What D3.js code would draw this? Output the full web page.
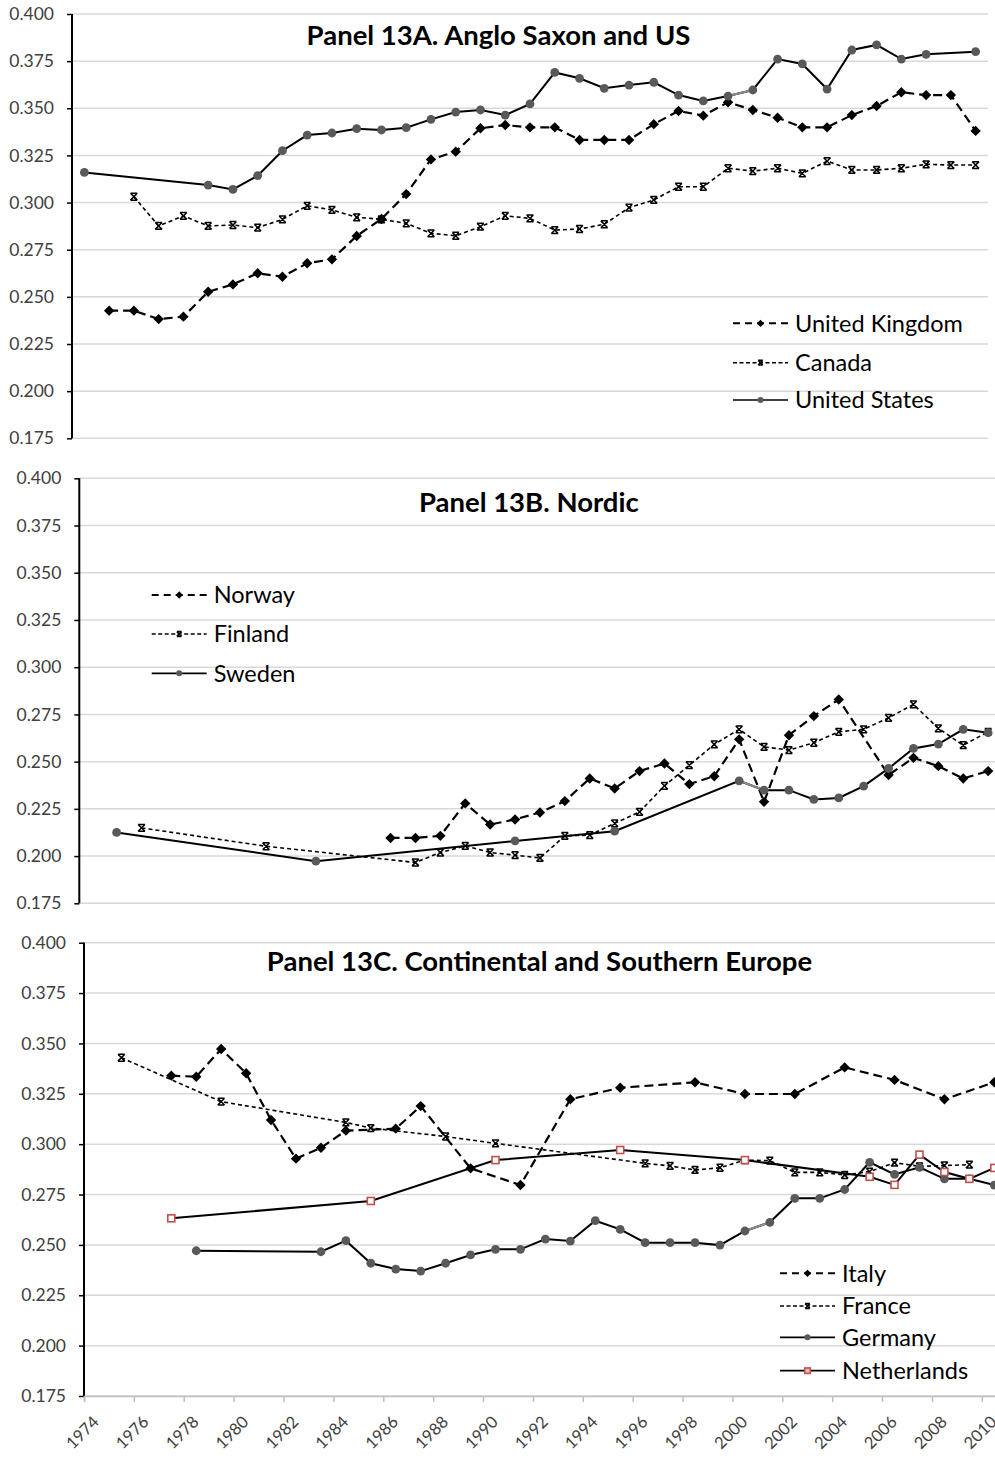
<!DOCTYPE html>
<html><head><meta charset="utf-8">
<script src="https://cdn.jsdelivr.net/npm/d3@7"></script>
<style>
body{margin:0;background:#fff}
svg{display:block}
text{font-family:Lato,'Open Sans',sans-serif}
</style>
</head><body>
<svg id="chart" width="995" height="1473"></svg>
<script>
// ---------------- DATA ----------------
const yTickValues = [0.175, 0.200, 0.225, 0.250, 0.275, 0.300, 0.325, 0.350, 0.375, 0.400];
const xTickYears = [1974,1976,1978,1980,1982,1984,1986,1988,1990,1992,1994,1996,1998,2000,2002,2004,2006,2008,2010];

const titleA = "Panel 13A. Anglo Saxon and US";
const titleB = "Panel 13B. Nordic";
const titleC = "Panel 13C. Continental and Southern Europe";

// Panel A
const ukYears = [1975,1976,1977,1978,1979,1980,1981,1982,1983,1984,1985,1986,1987,1988,1989,1990,1991,1992,1993,1994,1995,1996,1997,1998,1999,2000,2001,2002,2003,2004,2005,2006,2007,2008,2009,2010];
const ukValues = [0.2427,0.2427,0.2382,0.2395,0.2527,0.2566,0.2625,0.2607,0.2678,0.2699,0.2823,0.2913,0.3045,0.3229,0.3270,0.3394,0.3411,0.3399,0.3399,0.3332,0.3332,0.3332,0.3416,0.3486,0.3461,0.3532,0.3491,0.3450,0.3399,0.3399,0.3464,0.3512,0.3585,0.3570,0.3570,0.3380];
const canadaYears = [1976,1977,1978,1979,1980,1981,1982,1983,1984,1985,1986,1987,1988,1989,1990,1991,1992,1993,1994,1995,1996,1997,1998,1999,2000,2001,2002,2003,2004,2005,2006,2007,2008,2009,2010];
const canadaValues = [0.3031,0.2876,0.2929,0.2876,0.2881,0.2867,0.2911,0.2983,0.2961,0.2922,0.2911,0.2890,0.2837,0.2824,0.2872,0.2930,0.2916,0.2854,0.2860,0.2885,0.2973,0.3014,0.3084,0.3084,0.3182,0.3167,0.3182,0.3155,0.3220,0.3173,0.3173,0.3182,0.3203,0.3199,0.3199];
const usYears = [1974,1979,1980,1981,1982,1983,1984,1985,1986,1987,1988,1989,1990,1991,1992,1993,1994,1995,1996,1997,1998,1999,2000,2001,2002,2003,2004,2005,2006,2007,2008,2010];
const usValues = [0.3160,0.3093,0.3070,0.3143,0.3275,0.3358,0.3369,0.3392,0.3385,0.3397,0.3441,0.3480,0.3491,0.3464,0.3523,0.3690,0.3659,0.3606,0.3623,0.3638,0.3570,0.3539,0.3565,0.3597,0.3761,0.3735,0.3602,0.3809,0.3836,0.3761,0.3786,0.3800];

// Panel B
const norwayYears = [1986,1987,1988,1989,1990,1991,1992,1993,1994,1995,1996,1997,1998,1999,2000,2001,2002,2003,2004,2006,2007,2008,2009,2010];
const norwayValues = [0.2096,0.2096,0.2107,0.2279,0.2167,0.2194,0.2231,0.2291,0.2411,0.2358,0.2450,0.2490,0.2381,0.2423,0.2618,0.2287,0.2640,0.2741,0.2829,0.2429,0.2520,0.2476,0.2411,0.2450];
const finlandYears = [1976,1981,1987,1988,1989,1990,1991,1992,1993,1994,1995,1996,1997,1998,1999,2000,2001,2002,2003,2004,2005,2006,2007,2008,2009,2010];
const finlandValues = [0.2149,0.2052,0.1966,0.2019,0.2054,0.2019,0.2005,0.1990,0.2107,0.2111,0.2173,0.2234,0.2372,0.2481,0.2591,0.2671,0.2578,0.2561,0.2600,0.2658,0.2671,0.2732,0.2803,0.2676,0.2587,0.2658];
const swedenYears = [1975,1983,1991,1995,2000,2001,2002,2003,2004,2005,2006,2007,2008,2009,2010];
const swedenValues = [0.2125,0.1973,0.2080,0.2132,0.2398,0.2349,0.2349,0.2300,0.2308,0.2370,0.2464,0.2570,0.2593,0.2671,0.2653];

// Panel C (points sit between the year ticks)
const italyYears = [1977.5,1978.5,1979.5,1980.5,1981.5,1982.5,1983.5,1984.5,1986.5,1987.5,1989.5,1991.5,1993.5,1995.5,1998.5,2000.5,2002.5,2004.5,2006.5,2008.5,2010.5];
const italyValues = [0.3340,0.3335,0.3472,0.3352,0.3120,0.2928,0.2982,0.3067,0.3077,0.3189,0.2880,0.2797,0.3223,0.3280,0.3307,0.3249,0.3249,0.3381,0.3319,0.3223,0.3307];
const franceYears = [1975.5,1979.5,1984.5,1985.5,1988.5,1990.5,1996.5,1997.5,1998.5,1999.5,2000.5,2001.5,2002.5,2003.5,2004.5,2005.5,2006.5,2007.5,2008.5,2009.5];
const franceValues = [0.3429,0.3211,0.3108,0.3080,0.3038,0.3004,0.2905,0.2892,0.2872,0.2883,0.2921,0.2918,0.2860,0.2860,0.2847,0.2864,0.2908,0.2890,0.2894,0.2898];
const germanyYears = [1978.5,1983.5,1984.5,1985.5,1986.5,1987.5,1988.5,1989.5,1990.5,1991.5,1992.5,1993.5,1994.5,1995.5,1996.5,1997.5,1998.5,1999.5,2000.5,2001.5,2002.5,2003.5,2004.5,2005.5,2006.5,2007.5,2008.5,2009.5,2010.5];
const germanyValues = [0.2471,0.2466,0.2521,0.2409,0.2380,0.2370,0.2409,0.2450,0.2478,0.2478,0.2529,0.2519,0.2620,0.2577,0.2511,0.2511,0.2511,0.2499,0.2569,0.2612,0.2731,0.2731,0.2775,0.2910,0.2850,0.2885,0.2828,0.2828,0.2797];
const netherlandsYears = [1977.5,1985.5,1990.5,1995.5,2000.5,2005.5,2006.5,2007.5,2008.5,2009.5,2010.5];
const netherlandsValues = [0.2632,0.2718,0.2921,0.2971,0.2921,0.2838,0.2798,0.2948,0.2862,0.2828,0.2882];

// ---------------- STYLES ----------------
const styles = {
  dash:  {dash: "9,5",   width: 2.2, lDash: "7,5",   marker: "diamond"},
  short: {dash: "4,3",   width: 1.6, lDash: "4,2.5", marker: "star"},
  solid: {dash: null,    width: 2.0, lDash: null,    marker: "circle"},
  nl:    {dash: null,    width: 2.0, lDash: null,    marker: "square"}
};
const zip = (xs, vs) => xs.map((x, i) => ({x, v: vs[i]}));

const panels = [
  { title: titleA, titleX: 498.5, titleY: 45,
    xDomain: [1973.5, 2010.5], xRange: [72, 988], yTop: 14, yBot: 438.3,
    legendX: 733, legendYs: [323.3, 362.7, 400], xAxis: false,
    series: [
      {name: "United Kingdom", data: zip(ukYears, ukValues), style: "dash"},
      {name: "Canada", data: zip(canadaYears, canadaValues), style: "short"},
      {name: "United States", data: zip(usYears, usValues), style: "solid", gray: [2000, 2001]}
    ]},
  { title: titleB, titleX: 528.8, titleY: 511.7,
    xDomain: [1973.5, 2010.5], xRange: [79.3, 79.3 + 37 * 24.9], yTop: 478.3, yBot: 903.3,
    legendX: 151.7, legendYs: [595, 634, 673.3], xAxis: false,
    series: [
      {name: "Norway", data: zip(norwayYears, norwayValues), style: "dash"},
      {name: "Finland", data: zip(finlandYears, finlandValues), style: "short"},
      {name: "Sweden", data: zip(swedenYears, swedenValues), style: "solid", gray: [2000, 2001]}
    ]},
  { title: titleC, titleX: 539.5, titleY: 970.7,
    xDomain: [1974, 2011], xRange: [84, 84 + 37 * 24.94], yTop: 942.7, yBot: 1396,
    legendX: 780, legendYs: [1273.3, 1306, 1337.3, 1370.7], xAxis: true,
    series: [
      {name: "Italy", data: zip(italyYears, italyValues), style: "dash"},
      {name: "France", data: zip(franceYears, franceValues), style: "short"},
      {name: "Germany", data: zip(germanyYears, germanyValues), style: "solid", gray: [2000.5, 2001.5]},
      {name: "Netherlands", data: zip(netherlandsYears, netherlandsValues), style: "nl"}
    ]}
];

const svg = d3.select("#chart");
svg.append("rect").attr("width", 995).attr("height", 1473).attr("fill", "#fff");

function drawMarker(g, type, cx, cy, small) {
  const k = small ? 0.7 : 1;
  if (type === "diamond") {
    const r = 5.2 * k;
    g.append("path").attr("d", `M${cx},${cy - r}L${cx + r},${cy}L${cx},${cy + r}L${cx - r},${cy}Z`).attr("fill", "#000");
  } else if (type === "star") {
    const r = 3.4 * k;
    g.append("path").attr("d", `M${cx - r},${cy - r}L${cx + r},${cy + r}M${cx - r},${cy + r}L${cx + r},${cy - r}M${cx - r},${cy - r}L${cx + r},${cy - r}M${cx - r},${cy + r}L${cx + r},${cy + r}`)
      .attr("stroke", "#000").attr("stroke-width", 1.5).attr("fill", "none");
  } else if (type === "circle") {
    g.append("circle").attr("cx", cx).attr("cy", cy).attr("r", small ? 3 : 4.4).attr("fill", "#595959");
  } else if (type === "square") {
    const s = small ? 5.5 : 7;
    g.append("rect").attr("x", cx - s / 2).attr("y", cy - s / 2).attr("width", s).attr("height", s)
      .attr("fill", small ? "#e6b9b8" : "#fff").attr("stroke", "#c0504d").attr("stroke-width", 1.6);
  }
}

panels.forEach(p => {
  const x = d3.scaleLinear().domain(p.xDomain).range(p.xRange);
  const y = d3.scaleLinear().domain([0.175, 0.400]).range([p.yBot, p.yTop]);
  const g = svg.append("g");

  // gridlines
  g.append("g").selectAll("line").data(yTickValues).join("line")
    .attr("x1", p.xRange[0]).attr("x2", p.xRange[1])
    .attr("y1", d => y(d)).attr("y2", d => y(d))
    .attr("stroke", "#d9d9d9").attr("stroke-width", 1.5);

  // y axis
  const yAxis = d3.axisLeft(y).tickValues(yTickValues).tickFormat(d3.format(".3f")).tickSize(5).tickPadding(13);
  const ya = g.append("g").attr("transform", `translate(${p.xRange[0]},0)`).call(yAxis);
  ya.select(".domain").attr("stroke", "#000").attr("stroke-width", 2).attr("d", `M0,${p.yTop}V${p.yBot}`);
  ya.selectAll(".tick line").attr("stroke", "#000").attr("stroke-width", 1.5);
  ya.selectAll(".tick text").attr("font-size", 17.5).attr("fill", "#404040").attr("font-family", "Lato");

  // x axis (panel C only)
  if (p.xAxis) {
    const xAxis = d3.axisBottom(x).tickValues(xTickYears).tickFormat(d3.format("d")).tickSize(6);
    const xa = g.append("g").attr("transform", `translate(0,${p.yBot})`).call(xAxis);
    xa.select(".domain").attr("stroke", "#bfbfbf").attr("stroke-width", 1.5);
    xa.selectAll(".tick line").attr("stroke", "#bfbfbf").attr("stroke-width", 1.5);
    xa.selectAll(".tick text")
      .attr("font-size", 16.5).attr("fill", "#404040").attr("font-family", "Lato")
      .attr("text-anchor", "end").attr("dy", null).attr("y", 0)
      .attr("transform", "translate(15.5,27) rotate(-45)");
  }

  // title
  g.append("text").attr("x", p.titleX).attr("y", p.titleY).attr("text-anchor", "middle")
    .attr("font-size", 27.5).attr("font-weight", "bold").attr("fill", "#000").text(p.title);

  // series
  const line = d3.line().x(d => x(d.x)).y(d => y(d.v));
  p.series.forEach(s => {
    const st = styles[s.style];
    const sg = g.append("g");
    sg.append("path").attr("d", line(s.data)).attr("fill", "none").attr("stroke", "#000")
      .attr("stroke-width", st.width).attr("stroke-dasharray", st.dash);
    if (s.gray) {
      const seg = s.data.filter(d => d.x >= s.gray[0] && d.x <= s.gray[1]);
      sg.append("path").attr("d", line(seg)).attr("fill", "none").attr("stroke", "#8c8c8c").attr("stroke-width", st.width);
    }
    s.data.forEach(d => drawMarker(sg, st.marker, x(d.x), y(d.v), false));
  });

  // legend
  p.series.forEach((s, i) => {
    const st = styles[s.style];
    const ly = p.legendYs[i];
    const lg = g.append("g");
    lg.append("line").attr("x1", p.legendX).attr("x2", p.legendX + 55).attr("y1", ly).attr("y2", ly)
      .attr("stroke", "#000").attr("stroke-width", st.width * 0.85).attr("stroke-dasharray", st.lDash);
    drawMarker(lg, st.marker, p.legendX + 27.5, ly, true);
    lg.append("text").attr("x", p.legendX + 62).attr("y", ly).attr("dy", "0.36em")
      .attr("font-size", 23.5).attr("fill", "#000").text(s.name);
  });
});
</script>
</body></html>
